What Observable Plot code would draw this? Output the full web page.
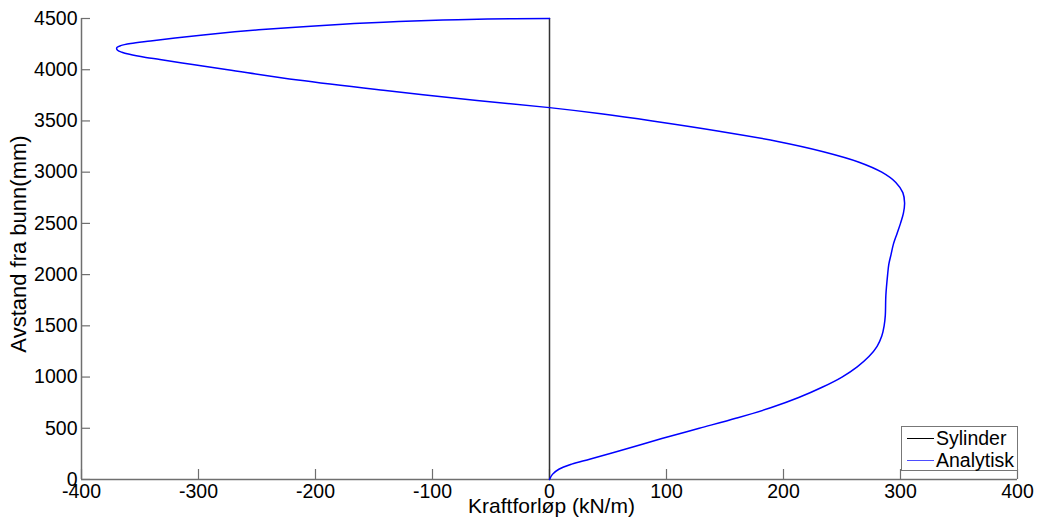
<!DOCTYPE html>
<html>
<head>
<meta charset="utf-8">
<script src="https://cdn.jsdelivr.net/npm/d3@7"></script>
<script src="https://cdn.jsdelivr.net/npm/@observablehq/plot@0.6"></script>
<style>
  body { margin: 0; background: #fff; }
  #wrap { position: relative; width: 1039px; height: 526px; font-family: "Liberation Sans", Arial, sans-serif; }
  .legend { position: absolute; left: 901px; top: 426px; width: 115px; height: 43px; border: 1px solid #777; background: #fff; font-size: 19.5px; color: #000; }
  .legend .row { position: absolute; left: 5px; height: 22px; display: flex; align-items: center; white-space: nowrap; }
  .legend .swatch { width: 27px; height: 0; border-top: 1.5px solid #000; margin-right: 2px; }
</style>
</head>
<body>
<div id="wrap"></div>
<script>
// Load distribution along the height: Analytisk curve (kN/m vs mm from bottom)
const analytiskY = [0, 50, 100, 150, 200, 300, 400, 500, 600, 700, 800, 900, 1000, 1100, 1200, 1300, 1400, 1500, 1600, 1800, 2000, 2100, 2200, 2300, 2400, 2500, 2600, 2700, 2800, 2900, 3000, 3100, 3200, 3300, 3400, 3500, 3570, 3630,
  3700, 3800, 3900, 4000, 4050, 4100, 4120, 4150, 4170, 4190, 4207, 4220, 4235, 4255, 4280, 4310, 4340, 4370, 4400, 4425, 4450, 4470, 4485, 4495, 4500];
const analytiskX = [0, 2.5, 8, 19, 35, 66, 96, 128, 160, 189, 213, 233, 250, 263, 273, 280, 284, 286, 287, 287.5, 289, 290, 292, 294, 297, 300, 302.5, 303.5, 302, 296, 284, 264, 234, 195, 145, 88, 44, 0,
  -62, -142, -215, -275, -305, -333, -345, -359, -365.5, -369.2, -370, -369.5, -366.5, -358, -341, -320, -296, -269, -236, -204, -167, -129, -91, -53, 0];

// Sylinder: zero line over the full height
const sylinderY = [0, 4500];
const sylinderX = [0, 0];

const xTicks = [-400, -300, -200, -100, 0, 100, 200, 300, 400];
const yTicks = [0, 500, 1000, 1500, 2000, 2500, 3000, 3500, 4000, 4500];

const analytisk = analytiskY.map((y, i) => ({x: analytiskX[i], y}));
const sylinder = sylinderY.map((y, i) => ({x: sylinderX[i], y}));

const axisColor = "#6f6f6f";

const chart = Plot.plot({
  width: 1039,
  height: 526,
  marginLeft: 81,
  marginRight: 22,
  marginTop: 18,
  marginBottom: 47,
  style: {fontFamily: "'Liberation Sans', Arial, sans-serif", fontSize: "19.5px", color: "#000", background: "#fff"},
  x: {domain: [-400, 400]},
  y: {domain: [0, 4500]},
  marks: [
    Plot.axisX({ticks: xTicks, tickSize: 0, tickPadding: 5, tickFormat: d => String(d), label: null}),
    Plot.axisY({ticks: yTicks, tickSize: 0, tickPadding: 4, tickFormat: d => String(d), label: null}),
    // inward tick marks
    Plot.tickX(xTicks, {x: d => d, insetTop: 451, stroke: axisColor, strokeWidth: 1.2}),
    Plot.tickY(yTicks, {y: d => d, insetRight: 927, stroke: axisColor, strokeWidth: 1.2}),
    Plot.ruleY([0], {stroke: axisColor, strokeWidth: 1.5}),
    Plot.ruleX([-400], {stroke: axisColor, strokeWidth: 1.5}),
    Plot.line(sylinder, {x: "x", y: "y", stroke: "#333", strokeWidth: 1.5}),
    Plot.line(analytisk, {x: "x", y: "y", stroke: "#0000ff", strokeWidth: 1.5, curve: "catmull-rom"}),
    Plot.text(["Kraftforløp (kN/m)"], {frameAnchor: "bottom", dx: 2, dy: 33, fontSize: 21}),
    Plot.text(["Avstand fra bunn(mm)"], {frameAnchor: "left", textAnchor: "middle", dx: -63, dy: -5, rotate: -90, fontSize: 22})
  ]
});

const wrap = document.getElementById("wrap");
wrap.appendChild(chart);

// legend box inside the plot area
const legend = document.createElement("div");
legend.className = "legend";
legend.innerHTML = `
  <div class="row" style="top:0px"><span class="swatch" style="border-color:#000"></span>Sylinder</div>
  <div class="row" style="top:22px"><span class="swatch" style="border-color:#4d4dff"></span>Analytisk</div>`;
wrap.appendChild(legend);
</script>
</body>
</html>
